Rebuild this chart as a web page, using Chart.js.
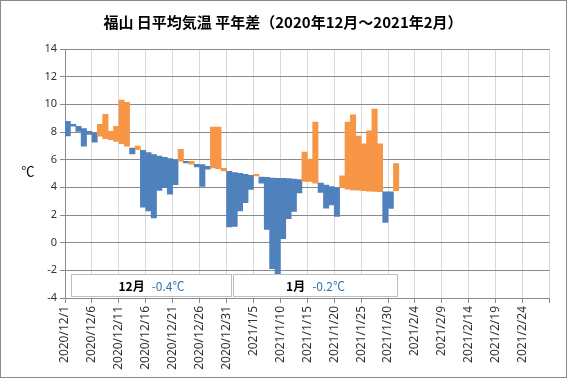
<!DOCTYPE html>
<html><head><meta charset="utf-8">
<script src="https://cdn.jsdelivr.net/npm/chart.js@4.4.1/dist/chart.umd.min.js"></script>
<style>html,body{margin:0;padding:0;background:#fff;} canvas{display:block;}</style>
</head><body>
<canvas id="c" width="567" height="379"></canvas>
<script>
const chartTitle = '福山 日平均気温 平年差（2020年12月～2021年2月）';
const axisUnit = '℃';
// daily normal (平年値) and actual daily mean temperature, from 2020/12/1
const normalTemp = [
  8.77, 8.55, 8.41, 8.24, 8.05, 7.90, 7.69, 7.52, 7.45, 7.32,
  7.16, 6.98, 6.84, 6.72, 6.67, 6.51, 6.36, 6.26, 6.17, 6.07,
  5.97, 5.90, 5.88, 5.68, 5.66, 5.64, 5.52, 5.40, 5.33, 5.18,
  5.16, 5.06, 5.01, 4.94, 4.87, 4.82, 4.74, 4.72, 4.67, 4.65,
  4.65, 4.63, 4.60, 4.56, 4.43, 4.42, 4.30, 4.30, 4.16, 4.06,
  3.99, 3.99, 3.87, 3.82, 3.80, 3.75, 3.73, 3.70, 3.68, 3.68,
  3.68, 3.75
];
const actualTemp = [
  7.71, 8.43, 8.05, 6.98, 7.83, 7.27, 8.55, 9.28, 8.05, 8.41,
  10.31, 10.15, 6.41, 6.98, 2.57, 2.29, 1.78, 3.78, 3.98, 3.51,
  4.19, 6.75, 5.76, 5.88, 5.47, 4.07, 5.32, 8.36, 8.36, 5.37,
  1.13, 1.18, 2.29, 2.89, 3.85, 4.94, 4.31, 0.96, -1.88, -2.24,
  0.29, 1.74, 2.26, 3.59, 6.55, 6.05, 8.72, 3.63, 2.50, 2.72,
  1.90, 4.83, 8.72, 9.25, 7.71, 7.15, 8.08, 9.66, 7.14, 1.47,
  2.48, 5.72
];
const tickLabels = [
  '2020/12/1','2020/12/6','2020/12/11','2020/12/16','2020/12/21','2020/12/26',
  '2020/12/31','2021/1/5','2021/1/10','2021/1/15','2021/1/20','2021/1/25',
  '2021/1/30','2021/2/4','2021/2/9','2021/2/14','2021/2/19','2021/2/24'
];
const monthNames = ['12月', '1月'];
const monthDiffs = ['-0.4℃', '-0.2℃'];

const upColor = '#F79646', downColor = '#4F81BD';
const barData = normalTemp.map((n, i) => ({ x: i + 0.5, y: [n, actualTemp[i]] }));
const barColors = normalTemp.map((n, i) => actualTemp[i] >= n ? upColor : downColor);

const decorPlugin = {
  id: 'decor',
  beforeDraw(chart) {
    const ctx = chart.ctx;
    ctx.save();
    ctx.fillStyle = '#fff';
    ctx.fillRect(0, 0, chart.width, chart.height);
    ctx.restore();
  },
  afterDraw(chart) {
    const ctx = chart.ctx, xs = chart.scales.x, ys = chart.scales.y;
    ctx.save();
    // outer border
    ctx.strokeStyle = '#8a8a8a'; ctx.lineWidth = 1;
    ctx.strokeRect(0.5, 0.5, chart.width - 1, chart.height - 2);
    // title
    ctx.fillStyle = '#000';
    ctx.font = 'bold 15px "Noto Sans CJK JP"';
    ctx.textAlign = 'center'; ctx.textBaseline = 'middle';
    ctx.fillText(chartTitle, 283, 22);
    // unit
    ctx.font = '13px "Noto Sans CJK JP"';
    ctx.fillText(axisUnit, 28, 171);
    // monthly boxes
    const spans = [[1.05, 30.75], [31.25, 61.6]];
    spans.forEach((s, i) => {
      const x1 = Math.round(xs.getPixelForValue(s[0])) + 0.5;
      const x2 = Math.round(xs.getPixelForValue(s[1])) + 0.5;
      const y1 = Math.round(ys.getPixelForValue(-2.3)) + 0.5;
      const y2 = Math.round(ys.getPixelForValue(-3.83)) + 0.5;
      ctx.fillStyle = '#fff';
      ctx.fillRect(x1, y1, x2 - x1, y2 - y1);
      ctx.strokeStyle = '#bfbfbf';
      ctx.strokeRect(x1, y1, x2 - x1, y2 - y1);
      const cx = (x1 + x2) / 2, cy = (y1 + y2) / 2 + 0.5;
      ctx.font = 'bold 12px "Noto Sans CJK JP"';
      const w1 = ctx.measureText(monthNames[i]).width;
      ctx.font = '12px "Noto Sans CJK JP"';
      const w2 = ctx.measureText(monthDiffs[i]).width;
      const gap = 7;
      const sx = cx - (w1 + gap + w2) / 2;
      ctx.textAlign = 'left';
      ctx.fillStyle = '#000';
      ctx.font = 'bold 12px "Noto Sans CJK JP"';
      ctx.fillText(monthNames[i], sx, cy);
      ctx.fillStyle = '#2E75B6';
      ctx.font = '12px "Noto Sans CJK JP"';
      ctx.fillText(monthDiffs[i], sx + w1 + gap, cy);
    });
    ctx.restore();
  }
};

new Chart(document.getElementById('c'), {
  type: 'bar',
  data: {
    datasets: [{
      data: barData,
      backgroundColor: barColors,
      borderWidth: 0,
      barPercentage: 1.0,
      categoryPercentage: 1.0
    }]
  },
  options: {
    responsive: false,
    animation: false,
    devicePixelRatio: 1,
    layout: { padding: { left: 0, right: 14, top: 49, bottom: 0 } },
    plugins: { legend: { display: false }, tooltip: { enabled: false }, title: { display: false } },
    scales: {
      x: {
        type: 'linear', min: 0, max: 90, offset: false,
        afterFit(s) { s.height = 81; },
        afterBuildTicks(s) { s.ticks = []; for (let v = 0; v <= 90; v += 5) s.ticks.push({ value: v }); },
        grid: { color: '#d9d9d9', tickColor: '#8a8a8a', tickLength: 5, drawTicks: true, offset: false },
        border: { color: '#8a8a8a' },
        ticks: {
          autoSkip: false, minRotation: 90, maxRotation: 90, padding: 3,
          color: '#333', font: { family: 'Noto Sans', size: 12 },
          callback: (v) => (v % 5 === 0 && v / 5 < tickLabels.length) ? tickLabels[v / 5] : ''
        }
      },
      y: {
        min: -4, max: 14,
        afterFit(s) { s.width = 65; },
        grid: { color: '#8a8a8a', tickColor: '#8a8a8a', tickLength: 5 },
        border: { color: '#8a8a8a' },
        ticks: { stepSize: 2, padding: 3, color: '#333', font: { family: 'Noto Sans', size: 11 } }
      }
    }
  },
  plugins: [decorPlugin]
});
</script>
</body></html>
